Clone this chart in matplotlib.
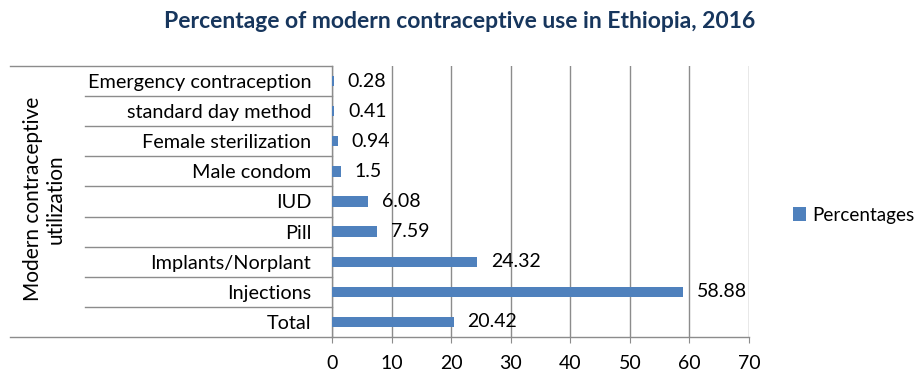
import numpy as np
import matplotlib
matplotlib.use("Agg")
import matplotlib.pyplot as plt

plt.rcParams["font.family"] = ["Lato", "DejaVu Sans"]

# data (bottom to top, as drawn)
categories = ["Total", "Injections", "Implants/Norplant", "Pill", "IUD",
              "Male condom", "Female sterilization", "standard day method",
              "Emergency contraception"]
percentages = [20.42, 58.88, 24.32, 7.59, 6.08, 1.5, 0.94, 0.41, 0.28]
value_labels = ["20.42", "58.88", "24.32", "7.59", "6.08", "1.5", "0.94", "0.41", "0.28"]
x_ticks = [0, 10, 20, 30, 40, 50, 60, 70]

BAR_COLOR = "#4F81BD"
GRID_COLOR = "#8C8C8C"
TITLE_COLOR = "#17365D"

fig = plt.figure(figsize=(9.21, 3.73), dpi=100)
ax = fig.add_axes([332 / 921, 1 - 337 / 373, (749 - 332) / 921, (337 - 66) / 373])

y = np.arange(len(categories))
ax.barh(y, percentages, height=0.34, color=BAR_COLOR, label="Percentages", zorder=3)

for yi, v, lab in zip(y, percentages, value_labels):
    ax.annotate(lab, (v, yi), xytext=(10, 0), textcoords="offset points",
                ha="left", va="center", fontsize=14, color="black")

ax.set_xlim(0, 70)
ax.set_ylim(-0.5, len(categories) - 0.5)
ax.set_xticks(x_ticks)
ax.set_yticks(y)
ax.set_yticklabels(categories, fontsize=14.3)
ax.tick_params(axis="y", length=0, pad=15)
ax.tick_params(axis="x", length=4, color=GRID_COLOR, labelsize=14, pad=9)
ax.xaxis.grid(True, color=GRID_COLOR, linewidth=1.0)
ax.set_axisbelow(True)

for side in ["top", "right"]:
    ax.spines[side].set_visible(False)
for side in ["left", "bottom"]:
    ax.spines[side].set_color(GRID_COLOR)
    ax.spines[side].set_linewidth(1.0)

# table-like separators of the category axis
inner_x = (85 - 332) / 417
outer_x = (10 - 332) / 417
n = len(categories)
for i in range(1, n):
    ax.plot([inner_x, 0], [i / n, i / n], transform=ax.transAxes,
            color=GRID_COLOR, linewidth=1.0, clip_on=False)
for yy in [0, 1]:
    ax.plot([outer_x, 0], [yy, yy], transform=ax.transAxes,
            color=GRID_COLOR, linewidth=1.0, clip_on=False)

fig.text(44 / 921, 1 - 199 / 373, "Modern contraceptive\nutilization",
         rotation=90, ha="center", va="center", fontsize=15, linespacing=1.15)

fig.text(460 / 921, 1 - 22 / 373,
         "Percentage of modern contraceptive use in Ethiopia, 2016",
         ha="center", va="center", fontsize=16.5, fontweight="bold", color=TITLE_COLOR)

fig.legend(loc="center left", bbox_to_anchor=(793 / 921, 1 - 215 / 373),
           frameon=False, fontsize=13.6, handlelength=0.7, handleheight=0.7,
           handletextpad=0.3, borderaxespad=0, borderpad=0)

fig.savefig("out.png", dpi=100)
